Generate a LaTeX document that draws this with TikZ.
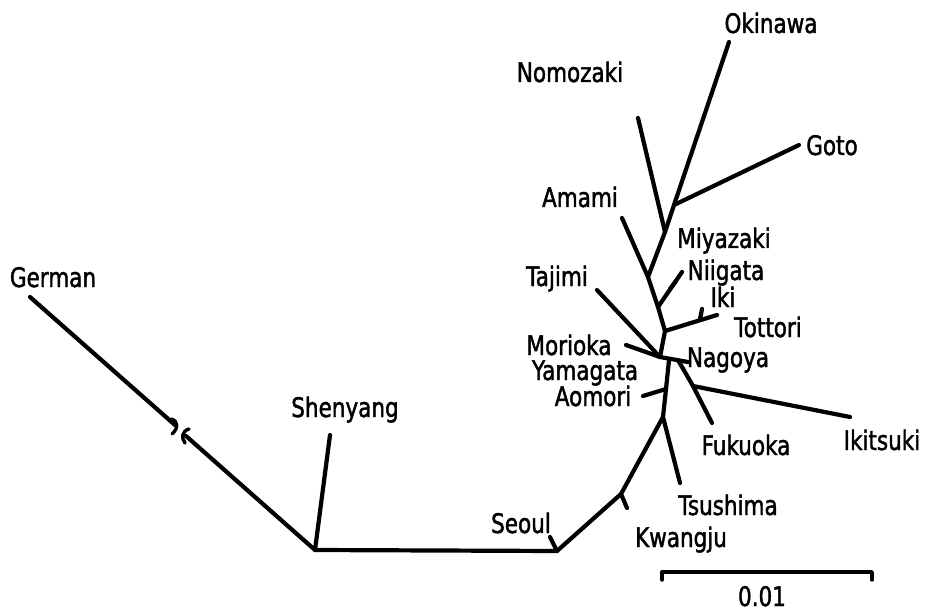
\documentclass[tikz,border=0pt]{standalone}
\usepackage{fontspec}
\setmainfont[FakeStretch=0.8,FakeBold=1.6]{DejaVu Sans}
\begin{document}
\begin{tikzpicture}[x=1bp,y=-1bp,
  br/.style={line width=4.2bp, line cap=round, line join=round},
  hook/.style={line width=3.4bp, line cap=round},
  lab/.style={font=\fontsize{27}{30}\selectfont, inner sep=0pt, anchor=base}]
\useasboundingbox (0,0) rectangle (926,611);
% tips and internal nodes
\coordinate (tGerman) at (30,297);
\coordinate (b1) at (175,425);
\coordinate (b2) at (186,436);
\coordinate (n1) at (315,550);
\coordinate (tShenyang) at (330,435);
\coordinate (n2) at (557,551);
\coordinate (tSeoul) at (550,537);
\coordinate (n3) at (621,494);
\coordinate (tKwangju) at (627,508);
\coordinate (n4) at (663,417);
\coordinate (tTsushima) at (680,483);
\coordinate (n5) at (666,389);
\coordinate (tAomori) at (643,396);
\coordinate (n6) at (669,360);
\coordinate (J) at (660,357);
\coordinate (tTajimi) at (597,290);
\coordinate (tMorioka) at (626,345);
\coordinate (tNagoya) at (688,362);
\coordinate (nF) at (678,360);
\coordinate (n7) at (693,386);
\coordinate (tFukuoka) at (712,423);
\coordinate (tIkitsuki) at (850,417);
\coordinate (nT) at (665,331);
\coordinate (tTottori) at (717,315);
\coordinate (nIki) at (700,319);
\coordinate (tIki) at (702,309);
\coordinate (nN) at (658,307);
\coordinate (tNiigata) at (682,272);
\coordinate (nNi) at (676,281);
\coordinate (tNi) at (670,289);
\coordinate (nA) at (648,277);
\coordinate (tAmami) at (622,218);
\coordinate (nM) at (665,232);
\coordinate (tNomozaki) at (638,118);
\coordinate (nG) at (674,205);
\coordinate (tGoto) at (799,145);
\coordinate (tOkinawa) at (729,42);
% main path
\draw[br] (tGerman) -- (b1);
\draw[br] (b2) -- (n1) -- (n2) -- (n3) -- (n4) -- (n5) -- (n6);
\draw[br] (J) -- (nT) -- (nN) -- (nA) -- (nM) -- (nG) -- (tOkinawa);
% break marks
\draw[hook] (171,419) .. controls (179,421) and (178,429) .. (172,434);
\draw[hook] (189,429) .. controls (182,431) and (181,438) .. (185,443);
% branches
\draw[br] (n1) -- (tShenyang);
\draw[br] (n2) -- (tSeoul);
\draw[br] (n3) -- (tKwangju);
\draw[br] (n4) -- (tTsushima);
\draw[br] (n5) -- (tAomori);
\draw[br] (J) -- (tTajimi);
\draw[br] (J) -- (tMorioka);
\draw[br] (J) -- (tNagoya);
\draw[br] (nF) -- (n7) -- (tFukuoka);
\draw[br] (n7) -- (tIkitsuki);
\draw[br] (nT) -- (tTottori);
\draw[br] (nIki) -- (tIki);
\draw[br] (nN) -- (tNiigata);
\draw[br] (nNi) -- (tNi);
\draw[br] (nA) -- (tAmami);
\draw[br] (nM) -- (tNomozaki);
\draw[br] (nG) -- (tGoto);
% scale bar
\coordinate (s1b) at (662,580);
\coordinate (s1) at (662,572);
\coordinate (s2) at (872,572);
\coordinate (s2b) at (872,580);
\draw[br, line width=3.4bp] (s1b) -- (s1) -- (s2) -- (s2b);
% labels
\node[lab] (lOkinawa) at (771,33) {Okinawa};
\node[lab] (lNomozaki) at (570,82) {Nomozaki};
\node[lab] (lGoto) at (832,155) {Goto};
\node[lab] (lAmami) at (580,207) {Amami};
\node[lab] (lMiyazaki) at (724,248) {Miyazaki};
\node[lab] (lNiigata) at (726,280) {Niigata};
\node[lab] (lIki) at (723,307) {Iki};
\node[lab] (lTottori) at (768,337) {Tottori};
\node[lab] (lNagoya) at (728,367) {Nagoya};
\node[lab] (lTajimi) at (557,286) {Tajimi};
\node[lab] (lMorioka) at (569,355) {Morioka};
\node[lab] (lYamagata) at (585,380) {Yamagata};
\node[lab] (lAomori) at (593,406) {Aomori};
\node[lab] (lFukuoka) at (746,455) {Fukuoka};
\node[lab] (lIkitsuki) at (882,450) {Ikitsuki};
\node[lab] (lTsushima) at (728,515) {Tsushima};
\node[lab] (lKwangju) at (681,547) {Kwangju};
\node[lab] (lSeoul) at (521,533) {Seoul};
\node[lab] (lShenyang) at (345,417) {Shenyang};
\node[lab] (lGerman) at (53,287) {German};
\node[lab] (lScale) at (762,606) {0.01};
\end{tikzpicture}
\end{document}
